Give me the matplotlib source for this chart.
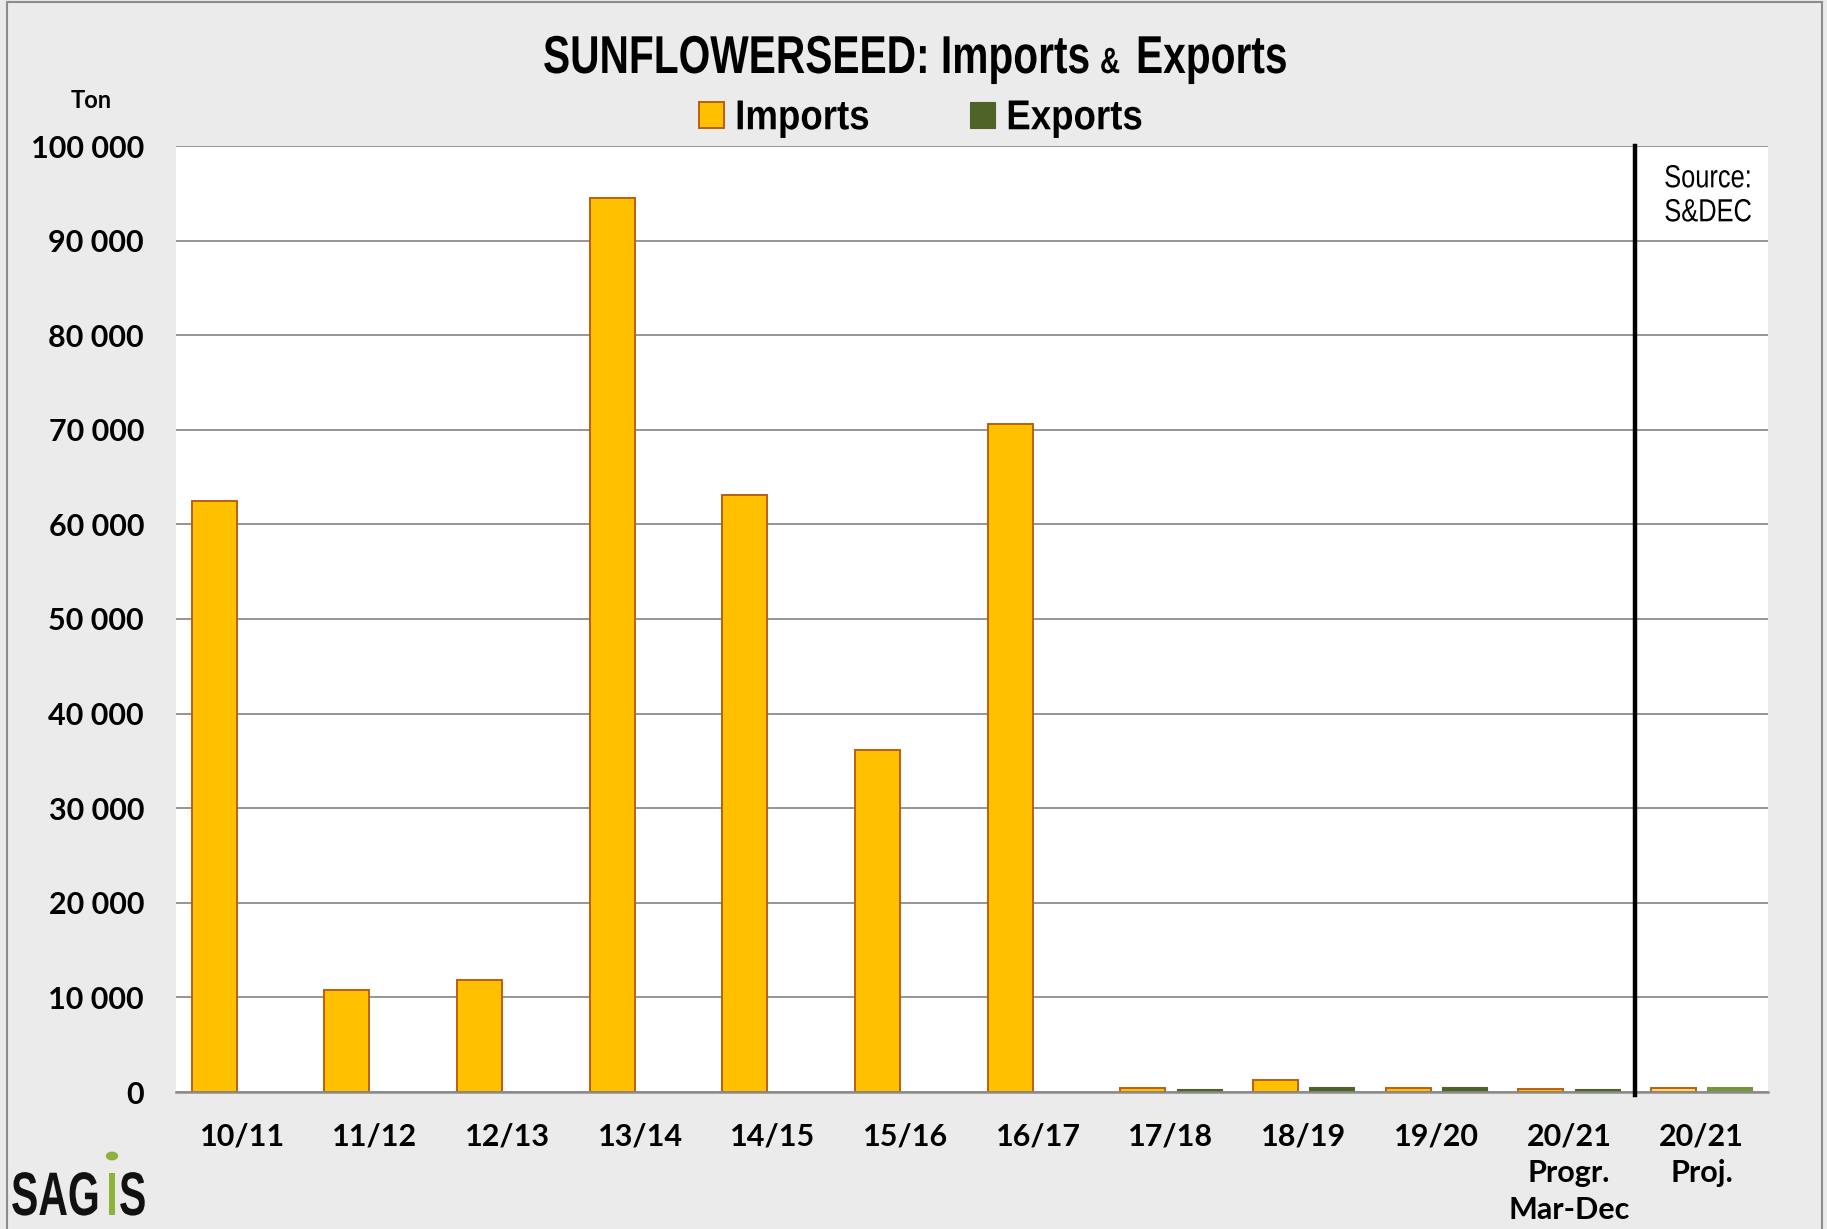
import matplotlib
matplotlib.use("Agg")
import matplotlib.pyplot as plt
from matplotlib.patches import Rectangle, Circle
from matplotlib.patheffects import AbstractPathEffect
from matplotlib.transforms import Affine2D

# ---------------- data ----------------
categories = ["10/11", "11/12", "12/13", "13/14", "14/15", "15/16", "16/17",
              "17/18", "18/19", "19/20", "20/21\nProgr.\nMar-Dec", "20/21\nProj."]
imports = [62500, 10800, 11800, 94500, 63100, 36100, 70600, 420, 1270, 420, 280, 460]
exports = [0, 0, 0, 0, 0, 0, 0, 280, 490, 490, 280, 490]
ytick_values = [0, 10000, 20000, 30000, 40000, 50000, 60000, 70000, 80000, 90000, 100000]
ytick_labels = ["0", "10 000", "20 000", "30 000", "40 000", "50 000",
                "60 000", "70 000", "80 000", "90 000", "100 000"]

# ---------------- style ----------------
W, H = 1827, 1229
DPI = 100
BG = "#EBEBEB"
IMP = "#FFC000"
IMP_EDGE = "#BC5E10"
IMP_PROJ = "#FFD966"
EXP = "#4F6228"
EXP_PROJ = "#77933C"
GRID = "#8C8C8C"
TICKFONT = ["Lato", "DejaVu Sans"]
NARROW = ["Liberation Sans", "DejaVu Sans"]


class Stretch(AbstractPathEffect):
    """Stretch glyph outlines vertically (narrow-font look)."""
    def __init__(self, sy=1.0, anchor="mid"):
        super().__init__()
        self.sy = sy
        self.anchor = anchor

    def draw_path(self, renderer, gc, tpath, affine, rgbFace=None):
        v = tpath.vertices
        cy = 0.0
        if self.anchor == "mid" and len(v):
            pos = v[:, 1][v[:, 1] >= 0]
            if len(pos):
                cy = pos.max() / 2.0
        t = Affine2D().translate(0, -cy).scale(1.0, self.sy).translate(0, cy) + affine
        renderer.draw_path(gc, tpath, t, rgbFace)


fig = plt.figure(figsize=(W / DPI, H / DPI), dpi=DPI, facecolor=BG)


def fx(px):
    return px / W


def fy(py):
    return 1 - py / H


left, right, top, bottom = 176, 1768, 146, 1092
ax = fig.add_axes([fx(left), fy(bottom), fx(right - left), (bottom - top) / H])
ax.set_facecolor("white")

n = len(categories)
x = list(range(n))
bw = 0.34
off = 0.213
imp_colors = [IMP] * (n - 1) + [IMP_PROJ]
exp_colors = [EXP] * (n - 1) + [EXP_PROJ]

b_imp = ax.bar([i - off for i in x], imports, width=bw, color=imp_colors,
               edgecolor=IMP_EDGE, linewidth=1.4, zorder=3, label="Imports")
b_exp = ax.bar([i + off for i in x], exports, width=bw, color=exp_colors,
               edgecolor=exp_colors, linewidth=0.8, zorder=3, label="Exports")

ax.set_xlim(-0.5, n - 0.5)
ax.set_ylim(0, 100000)
ax.set_yticks(ytick_values)
ax.set_yticklabels(ytick_labels)
ax.set_xticks(x)
ax.set_xticklabels(categories, linespacing=1.38)
ax.yaxis.grid(True, color=GRID, linewidth=1.3, zorder=0)
ax.set_axisbelow(True)
for s in ["left", "right", "top"]:
    ax.spines[s].set_visible(False)
ax.spines["bottom"].set_color(GRID)
ax.spines["bottom"].set_linewidth(1.8)
ax.spines["bottom"].set_zorder(4)
ax.tick_params(axis="both", length=0)
ax.tick_params(axis="y", pad=23)
ax.tick_params(axis="x", pad=22)
for lab in ax.get_yticklabels() + ax.get_xticklabels():
    lab.set_fontfamily(TICKFONT)
    lab.set_fontweight("bold")
    lab.set_fontsize(22)
    lab.set_color("black")

# divider between progress and projection
ax.axvline(n - 1.5, ymin=-0.003, ymax=1.0, color="black", linewidth=3.2,
           zorder=5, clip_on=False)

# source note
for txt, yy in [("Source:", 178), ("S&DEC", 212)]:
    fig.text(fx(1708), fy(yy), txt, ha="center", va="center", fontsize=18.3,
             family=NARROW, color="black", path_effects=[Stretch(1.26)])

# title (with the smaller ampersand)
title_base = 73
fig.text(fx(543), fy(title_base), "SUNFLOWERSEED: Imports", ha="left", va="baseline",
         fontsize=29.3, fontweight="bold", family=NARROW,
         path_effects=[Stretch(1.31, "base")])
fig.text(fx(1110), fy(title_base), "&", ha="center", va="baseline",
         fontsize=20, fontweight="bold", family=NARROW,
         path_effects=[Stretch(1.31, "base")])
fig.text(fx(1136), fy(title_base), "Exports", ha="left", va="baseline",
         fontsize=29.3, fontweight="bold", family=NARROW,
         path_effects=[Stretch(1.31, "base")])

# legend
leg = fig.legend(handles=[b_imp[0], b_exp[0]], labels=["Imports", "Exports"],
                 loc="center", bbox_to_anchor=(fx(921), fy(118)), ncol=2,
                 frameon=False, prop={"family": NARROW, "weight": "bold", "size": 26.4},
                 handlelength=0.68, handleheight=0.71, handletextpad=0.3,
                 columnspacing=2.75, borderpad=0, borderaxespad=0)
for t in leg.get_texts():
    t.set_path_effects([Stretch(1.14)])

# unit label
fig.text(fx(91), fy(100), "Ton", ha="center", va="center", fontsize=17,
         fontweight="bold", family=TICKFONT)

# outer border
fig.patches.append(Rectangle((fx(7), fy(1300)), fx(1822 - 7), (1300 - 2) / H,
                             transform=fig.transFigure, fill=False,
                             edgecolor="#8C8C8C", linewidth=1.5))

# SAGIS logo
logo_base = 1215
logo_fx = [Stretch(1.5, "base")]
fig.text(fx(11), fy(logo_base), "SAG", ha="left", va="baseline", fontsize=29.5,
         fontweight="bold", family=NARROW, color="#111111", path_effects=logo_fx)
fig.text(fx(112), fy(logo_base), "I", ha="center", va="baseline", fontsize=29.5,
         fontweight="bold", family=NARROW, color="#8DB33A", path_effects=logo_fx)
fig.text(fx(119), fy(logo_base), "S", ha="left", va="baseline", fontsize=29.5,
         fontweight="bold", family=NARROW, color="#111111", path_effects=logo_fx)
fig.patches.append(Circle((fx(112), fy(1156)), 5.5 / W, transform=fig.transFigure,
                          color="#8DB33A"))

fig.savefig("out.png", dpi=DPI, facecolor=BG)
